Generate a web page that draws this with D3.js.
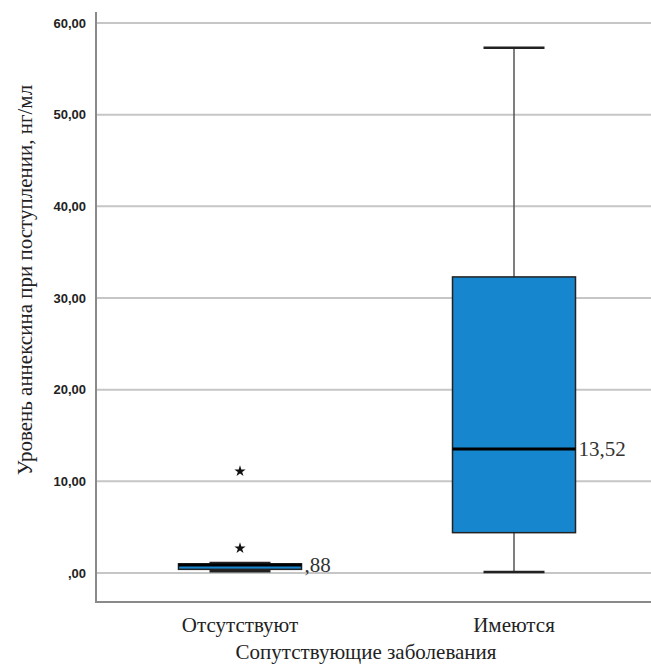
<!DOCTYPE html>
<html>
<head>
<meta charset="utf-8">
<script src="https://cdn.jsdelivr.net/npm/d3@7"></script>
<style>
  body { margin: 0; background: #fff; }
  svg { display: block; }
</style>
</head>
<body>
<div id="chart"></div>
<script>
// данные
const groups = ["Отсутствуют", "Имеются"];
const whiskLow = [0.2, 0.1];
const q1 = [0.4, 4.4];
const medians = [0.88, 13.52];
const q3 = [1.0, 32.3];
const whiskHigh = [1.1, 57.3];
const medianLabels = [",88", "13,52"];
const outliers = [[11.1, 2.7], []];
const yTicks = [0, 10, 20, 30, 40, 50, 60];

const width = 651, height = 670;
const margin = {left: 96, right: 0, top: 12, bottom: 68};
const serif = "Liberation Serif, Times New Roman, serif";

const svg = d3.select("#chart").append("svg")
  .attr("width", width)
  .attr("height", height);

const y = d3.scaleLinear()
  .domain([0, 60])
  .range([573, 23]);

// центры групп
const x = d3.scalePoint()
  .domain(groups)
  .range([240, 514]);

// сетка
svg.selectAll("line.grid")
  .data(yTicks)
  .enter()
    .append("line")
    .attr("x1", margin.left)
    .attr("x2", width)
    .attr("y1", d => y(d))
    .attr("y2", d => y(d))
    .attr("stroke", "#c6c6c6")
    .attr("stroke-width", 2);

// подписи оси Y
const yAxis = d3.axisLeft(y)
  .tickValues(yTicks)
  .tickSize(0)
  .tickPadding(10)
  .tickFormat(d => d === 0 ? ",00" : d3.format(".2f")(d).replace(".", ","));

const gy = svg.append("g")
  .attr("transform", `translate(${margin.left},0)`)
  .call(yAxis);
gy.select(".domain").remove();
gy.selectAll("text")
  .attr("font-family", "Liberation Sans, Arial, sans-serif")
  .attr("font-size", 13)
  .attr("font-weight", "bold")
  .attr("fill", "#222");

// оси
svg.append("line")
  .attr("x1", margin.left).attr("x2", margin.left)
  .attr("y1", margin.top).attr("y2", 603)
  .attr("stroke", "#8a8a8a").attr("stroke-width", 2);
svg.append("line")
  .attr("x1", margin.left - 1).attr("x2", width)
  .attr("y1", 602).attr("y2", 602)
  .attr("stroke", "#8a8a8a").attr("stroke-width", 2);

const boxW = 123, capW = 61;

groups.forEach((g, i) => {
  const c = x(g);
  // усы
  svg.append("line")
    .attr("x1", c).attr("x2", c)
    .attr("y1", y(whiskHigh[i])).attr("y2", y(whiskLow[i]))
    .attr("stroke", "#555").attr("stroke-width", 1.5);
  [whiskLow[i], whiskHigh[i]].forEach(v => {
    svg.append("line")
      .attr("x1", c - capW / 2).attr("x2", c + capW / 2)
      .attr("y1", y(v)).attr("y2", y(v))
      .attr("stroke", "#222").attr("stroke-width", 2.5);
  });
  // ящик
  svg.append("rect")
    .attr("x", c - boxW / 2)
    .attr("width", boxW)
    .attr("y", y(q3[i]))
    .attr("height", y(q1[i]) - y(q3[i]))
    .attr("fill", "#1686cf")
    .attr("stroke", "#222")
    .attr("stroke-width", 1.5);
  // медиана
  svg.append("line")
    .attr("x1", c - boxW / 2).attr("x2", c + boxW / 2)
    .attr("y1", y(medians[i])).attr("y2", y(medians[i]))
    .attr("stroke", "#000").attr("stroke-width", 3);
  svg.append("text")
    .attr("x", c + boxW / 2 + 3)
    .attr("y", y(medians[i]))
    .attr("dy", "0.35em")
    .attr("font-family", serif)
    .attr("font-size", 21)
    .attr("fill", "#333")
    .text(medianLabels[i]);
  // выбросы
  svg.selectAll(null)
    .data(outliers[i])
    .enter()
      .append("path")
      .attr("d", d3.symbol(d3.symbolStar, 40))
      .attr("transform", d => `translate(${c},${y(d)})`)
      .attr("fill", "#111");
  // подпись группы
  svg.append("text")
    .attr("x", c)
    .attr("y", 632)
    .attr("text-anchor", "middle")
    .attr("font-family", serif)
    .attr("font-size", 21)
    .attr("fill", "#222")
    .text(g);
});

// названия осей
svg.append("text")
  .attr("x", 366)
  .attr("y", 659)
  .attr("text-anchor", "middle")
  .attr("font-family", serif)
  .attr("font-size", 21)
  .attr("fill", "#222")
  .text("Сопутствующие заболевания");

svg.append("text")
  .attr("transform", "translate(32,280) rotate(-90)")
  .attr("text-anchor", "middle")
  .attr("font-family", serif)
  .attr("font-size", 21)
  .attr("fill", "#222")
  .text("Уровень аннексина при поступлении, нг/мл");
</script>
</body>
</html>
